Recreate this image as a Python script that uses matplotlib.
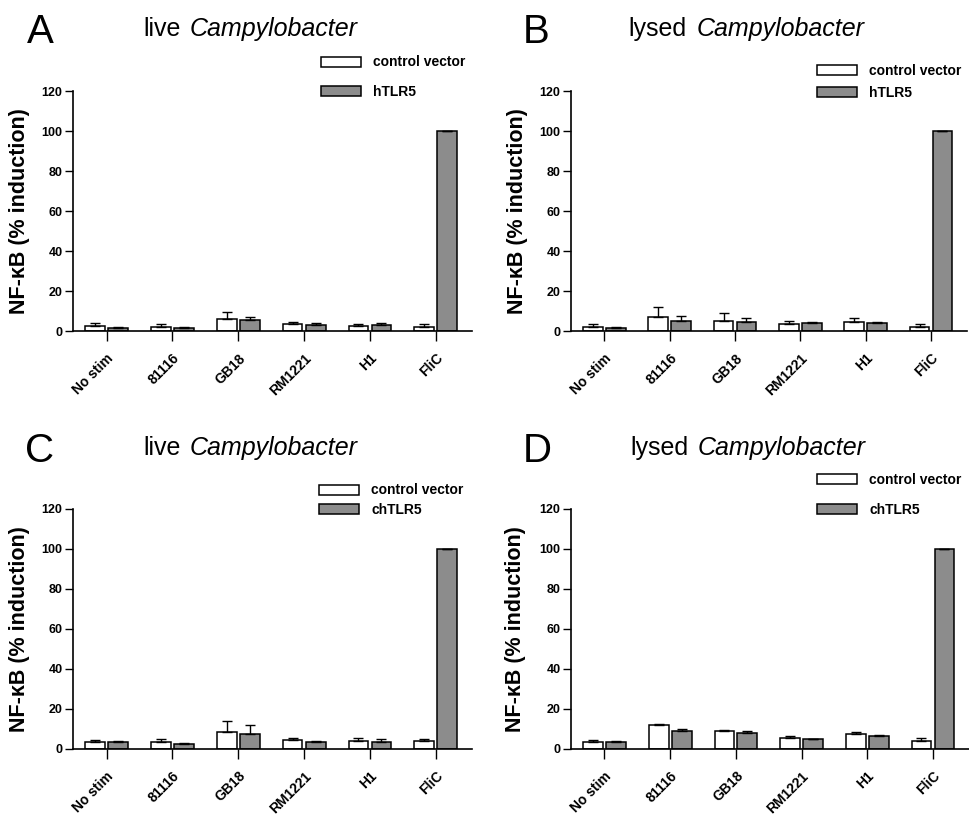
import matplotlib
matplotlib.use("Agg")
import matplotlib.pyplot as plt
import numpy as np

plt.rcParams['font.family'] = ['Liberation Sans', 'DejaVu Sans']

categories = ["No stim", "81116", "GB18", "RM1221", "H1", "FliC"]

# Panel A: live Campylobacter, hTLR5
A_ctrl = [2.3, 2.0, 6.0, 3.3, 2.3, 2.0]
A_ctrl_err = [1.5, 1.3, 3.5, 1.4, 1.4, 1.3]
A_tlr = [1.7, 1.7, 5.3, 3.0, 3.0, 100]
A_tlr_err = [0.5, 0.5, 1.7, 0.8, 1.2, 0]

# Panel B: lysed Campylobacter, hTLR5
B_ctrl = [2.2, 7.2, 5.2, 3.7, 4.3, 1.8]
B_ctrl_err = [1.5, 5.0, 3.6, 1.5, 2.4, 1.5]
B_tlr = [1.5, 5.2, 4.7, 3.8, 3.8, 100]
B_tlr_err = [0.7, 2.5, 1.8, 0.7, 0.9, 0]

# Panel C: live Campylobacter, chTLR5
C_ctrl = [3.5, 3.2, 8.3, 4.5, 3.7, 3.8]
C_ctrl_err = [0.7, 1.6, 5.4, 1.0, 1.8, 1.2]
C_tlr = [3.5, 2.3, 7.5, 3.3, 3.5, 100]
C_tlr_err = [0.2, 0.7, 4.5, 0.5, 1.3, 0]

# Panel D: lysed Campylobacter, chTLR5
D_ctrl = [3.5, 11.8, 8.7, 5.4, 7.4, 3.9]
D_ctrl_err = [0.9, 0.5, 0.9, 1.2, 0.8, 1.3]
D_tlr = [3.5, 8.9, 7.9, 4.9, 6.6, 100]
D_tlr_err = [0.4, 1.0, 1.0, 0.1, 0.3, 0]

yticks = [0, 20, 40, 60, 80, 100, 120]
ylabel = "NF-\u03baB (% induction)"

W, H = 969, 816
fig = plt.figure(figsize=(W / 100, H / 100), dpi=100)
fig.patch.set_facecolor("white")

GREY = "#8c8c8c"


def px_axes(left, top, right, bottom):
    return fig.add_axes([left / W, 1 - bottom / H, (right - left) / W, (bottom - top) / H])


def ftext(x, y, s, **kw):
    fig.text(x / W, 1 - y / H, s, **kw)


panels = [
    dict(box=(73, 91, 472, 331), letter="A", lx=27, word="live", tx=143, cx=190, ty=36,
         ctrl=A_ctrl, ce=A_ctrl_err, tlr=A_tlr, te=A_tlr_err, name="hTLR5",
         leg=(321, 55.5), lsp=1.1, ylx=20),
    dict(box=(571, 91, 967, 331), letter="B", lx=523, word="lysed", tx=628, cx=697, ty=36,
         ctrl=B_ctrl, ce=B_ctrl_err, tlr=B_tlr, te=B_tlr_err, name="hTLR5",
         leg=(817, 64), lsp=0.55, ylx=517),
    dict(box=(73, 508.7, 472, 748.7), letter="C", lx=25, word="live", tx=143, cx=190, ty=455,
         ctrl=C_ctrl, ce=C_ctrl_err, tlr=C_tlr, te=C_tlr_err, name="chTLR5",
         leg=(319, 483.5), lsp=0.38, ylx=20),
    dict(box=(571, 508.7, 969, 748.7), letter="D", lx=523, word="lysed", tx=630, cx=698, ty=455,
         ctrl=D_ctrl, ce=D_ctrl_err, tlr=D_tlr, te=D_tlr_err, name="chTLR5",
         leg=(817, 473), lsp=1.15, ylx=516),
]

x = np.arange(len(categories))
off = 0.175
bw = 0.30

for p in panels:
    l, t, r, b = p["box"]
    ax = px_axes(l, t, r, b)
    b1 = ax.bar(x - off, p["ctrl"], bw, color="white", edgecolor="black", linewidth=1.1,
                label="control vector", zorder=2)
    b2 = ax.bar(x + off, p["tlr"], bw, color=GREY, edgecolor="black", linewidth=1.1,
                label=p["name"], zorder=2)
    ax.errorbar(x - off, p["ctrl"], yerr=[np.zeros(len(x)), p["ce"]], fmt="none",
                ecolor="black", elinewidth=1.0, capsize=3.8, capthick=1.0, zorder=3)
    ax.errorbar(x + off, p["tlr"], yerr=[np.zeros(len(x)), p["te"]], fmt="none",
                ecolor="black", elinewidth=1.0, capsize=3.8, capthick=1.0, zorder=3)
    ax.set_ylim(0, 120)
    ax.set_xlim(-0.51, len(x) - 0.45)
    ax.set_yticks(yticks)
    ax.set_yticklabels([str(v) for v in yticks], fontsize=9, fontweight="bold")
    ax.set_xticks(x)
    ax.set_xticklabels(categories, fontsize=10, fontweight="bold", rotation=45,
                       ha="right", va="top", rotation_mode="anchor")
    for s in ("top", "right"):
        ax.spines[s].set_visible(False)
    for s in ("left", "bottom"):
        ax.spines[s].set_linewidth(1.2)
    ax.tick_params(axis="y", direction="out", length=6, width=1.0, pad=1.5)
    ax.tick_params(axis="x", direction="out", length=7.5, width=1.0, pad=7)
    ax.set_facecolor("none")

    # legend
    lx, ly = p["leg"]
    ax.legend(handles=[b1, b2], labels=["control vector", p["name"]],
              loc="upper left", bbox_to_anchor=(lx / W, 1 - ly / H),
              bbox_transform=fig.transFigure, frameon=False,
              prop=dict(family="Liberation Sans", weight="bold", size=10),
              handlelength=2.9, handleheight=0.75, handletextpad=0.85,
              labelspacing=p["lsp"], borderpad=0, borderaxespad=0)

    # y label
    ftext(p["ylx"], (t + b) / 2, ylabel, rotation=90, ha="center", va="center",
          fontsize=15.5, fontweight="bold")
    # panel letter
    ftext(p["lx"], p["ty"] + 7, p["letter"], fontsize=29, ha="left", va="baseline")
    # title
    ftext(p["tx"], p["ty"], p["word"], fontsize=18, ha="left", va="baseline")
    ftext(p["cx"], p["ty"], "Campylobacter", fontsize=18, ha="left", va="baseline",
          style="italic")

fig.savefig("out.png", dpi=100, facecolor="white")
